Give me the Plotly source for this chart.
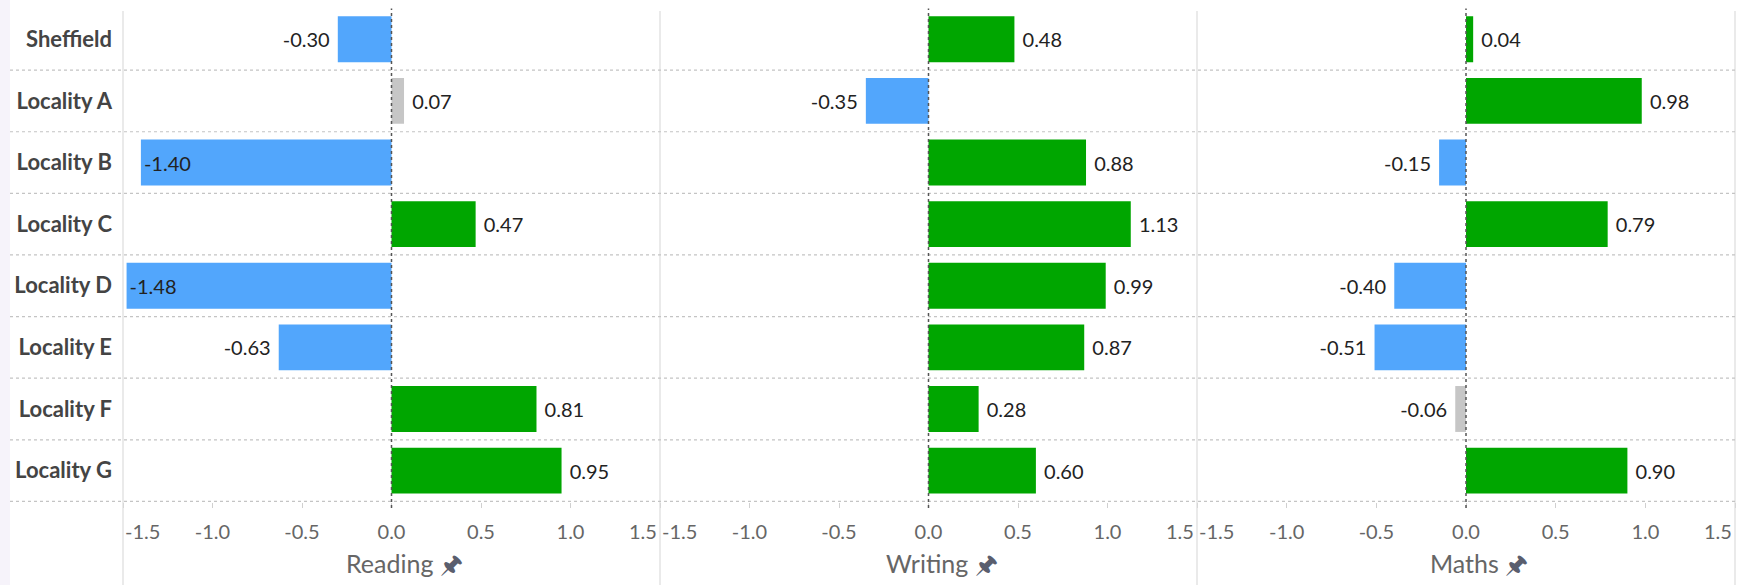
import plotly.graph_objects as go

categories = ["Sheffield", "Locality A", "Locality B", "Locality C",
              "Locality D", "Locality E", "Locality F", "Locality G"]
subjects = ["Reading", "Writing", "Maths"]
reading = [-0.30, 0.07, -1.40, 0.47, -1.48, -0.63, 0.81, 0.95]
writing = [0.48, -0.35, 0.88, 1.13, 0.99, 0.87, 0.28, 0.60]
maths = [0.04, 0.98, -0.15, 0.79, -0.40, -0.51, -0.06, 0.90]
reading_sig = ["neg", "ns", "neg", "pos", "neg", "neg", "pos", "pos"]
writing_sig = ["pos", "neg", "pos", "pos", "pos", "pos", "pos", "pos"]
maths_sig = ["pos", "pos", "neg", "pos", "neg", "neg", "ns", "pos"]
tick_vals = [-1.5, -1.0, -0.5, 0.0, 0.5, 1.0, 1.5]
tick_text = ["-1.5", "-1.0", "-0.5", "0.0", "0.5", "1.0", "1.5"]

COLORS = {"pos": "#00a600", "neg": "#52a6fc", "ns": "#c6c6c6"}
FONT = "Lato"
W, H = 1739, 585
panel_px = [(123, 660), (660, 1197), (1197, 1735)]
row_top, row_bot = 8.5, 502
TICK_Y = 530.5

# edge tick labels are drawn separately so they sit inside their own panel
axis_text = [""] + tick_text[1:-1] + [""]

fig = go.Figure()
series = [(reading, reading_sig), (writing, writing_sig), (maths, maths_sig)]
for i, (vals, sig) in enumerate(series):
    xa = "x" if i == 0 else f"x{i+1}"
    ya = "y" if i == 0 else f"y{i+1}"
    pos = ["inside" if v < -1.2 else "outside" for v in vals]
    txt = []
    for v, p in zip(vals, pos):
        s = f"{v:.2f}"
        if p == "outside":
            s = (s + " ") if v < 0 else (" " + s)
        txt.append(s)
    fig.add_trace(go.Bar(
        x=vals, y=categories, orientation="h",
        marker=dict(color=[COLORS[s] for s in sig], line=dict(width=0)),
        width=0.745,
        text=txt, textposition=pos, textangle=0,
        insidetextanchor="end",
        constraintext="none", cliponaxis=False,
        textfont=dict(family=FONT, size=20, color="#222222"),
        insidetextfont=dict(family=FONT, size=20, color="#222222"),
        outsidetextfont=dict(family=FONT, size=20, color="#222222"),
        hoverinfo="skip", showlegend=False,
        xaxis=xa, yaxis=ya,
    ))

ydom = [1 - row_bot / H, 1 - row_top / H]
layout = dict(
    width=W, height=H,
    margin=dict(l=0, r=0, t=0, b=0, autoexpand=False),
    paper_bgcolor="white", plot_bgcolor="white",
    bargap=0.25,
)
for i, (a, b) in enumerate(panel_px):
    xk = "xaxis" if i == 0 else f"xaxis{i+1}"
    yk = "yaxis" if i == 0 else f"yaxis{i+1}"
    layout[xk] = dict(
        domain=[a / W, b / W], range=[-1.5, 1.5],
        tickvals=tick_vals, ticktext=axis_text,
        ticks="outside", ticklen=5, tickcolor="#d0d0d0", tickwidth=1,
        tickfont=dict(family=FONT, size=20, color="#666666"),
        ticklabelstandoff=7,
        showgrid=False, zeroline=False, showline=False,
        automargin=False,
        anchor="y" if i == 0 else f"y{i+1}",
        fixedrange=True,
    )
    layout[yk] = dict(
        domain=ydom,
        categoryorder="array", categoryarray=categories,
        autorange="reversed",
        showgrid=False, zeroline=False, showline=False,
        showticklabels=(i == 0), ticks="",
        tickfont=dict(family=FONT, size=22, color="#444444", weight="bold"),
        ticklabelstandoff=10,
        automargin=False,
        anchor="x" if i == 0 else f"x{i+1}",
        fixedrange=True,
    )
    if i > 0:
        layout[yk]["matches"] = "y"
fig.update_layout(**layout)

shapes = []
# faint left edge tint
shapes.append(dict(type="rect", xref="paper", yref="paper", x0=0, x1=10 / W,
                   y0=0, y1=1, fillcolor="#f6f3fa", line=dict(width=0), layer="below"))
# panel separators
for xp in [123, 660, 1197, 1735]:
    shapes.append(dict(type="line", xref="paper", yref="paper",
                       x0=xp / W, x1=xp / W, y0=0, y1=1 - 11 / H,
                       line=dict(color="#dcdcdc", width=1.2)))
# row separators
for k in range(len(categories)):
    shapes.append(dict(type="line", xref="paper", yref="y",
                       x0=10 / W, x1=1735 / W, y0=k + 0.5, y1=k + 0.5,
                       line=dict(color="#c4c4c4", width=1.2, dash="dot")))
# zero lines
for i in range(3):
    xr = "x" if i == 0 else f"x{i+1}"
    shapes.append(dict(type="line", xref=xr, yref="paper",
                       x0=0, x1=0, y0=ydom[0] - 6 / H, y1=ydom[1],
                       line=dict(color="#555555", width=1.5, dash="dot")))
fig.update_layout(shapes=shapes)

annotations = []
for i, name in enumerate(subjects):
    a, b = panel_px[i]
    xr = "x" if i == 0 else f"x{i+1}"
    annotations.append(dict(
        xref="paper", yref="paper", x=((a + b) / 2 + 13) / W, y=1 - 563 / H,
        text=f"{name} <span style='color:#5a5e6e'>🖈</span>", showarrow=False,
        font=dict(family=FONT, size=25, color="#666666"),
        xanchor="center", yanchor="middle",
    ))
    # edge tick labels
    annotations.append(dict(
        xref=xr, yref="paper", x=tick_vals[0], y=1 - TICK_Y / H,
        text=tick_text[0], showarrow=False, xanchor="left", yanchor="middle",
        xshift=0, font=dict(family=FONT, size=20, color="#666666"),
    ))
    annotations.append(dict(
        xref=xr, yref="paper", x=tick_vals[-1], y=1 - TICK_Y / H,
        text=tick_text[-1], showarrow=False, xanchor="right", yanchor="middle",
        xshift=-1, font=dict(family=FONT, size=20, color="#666666"),
    ))
fig.update_layout(annotations=annotations)

fig.write_html("out.html")
